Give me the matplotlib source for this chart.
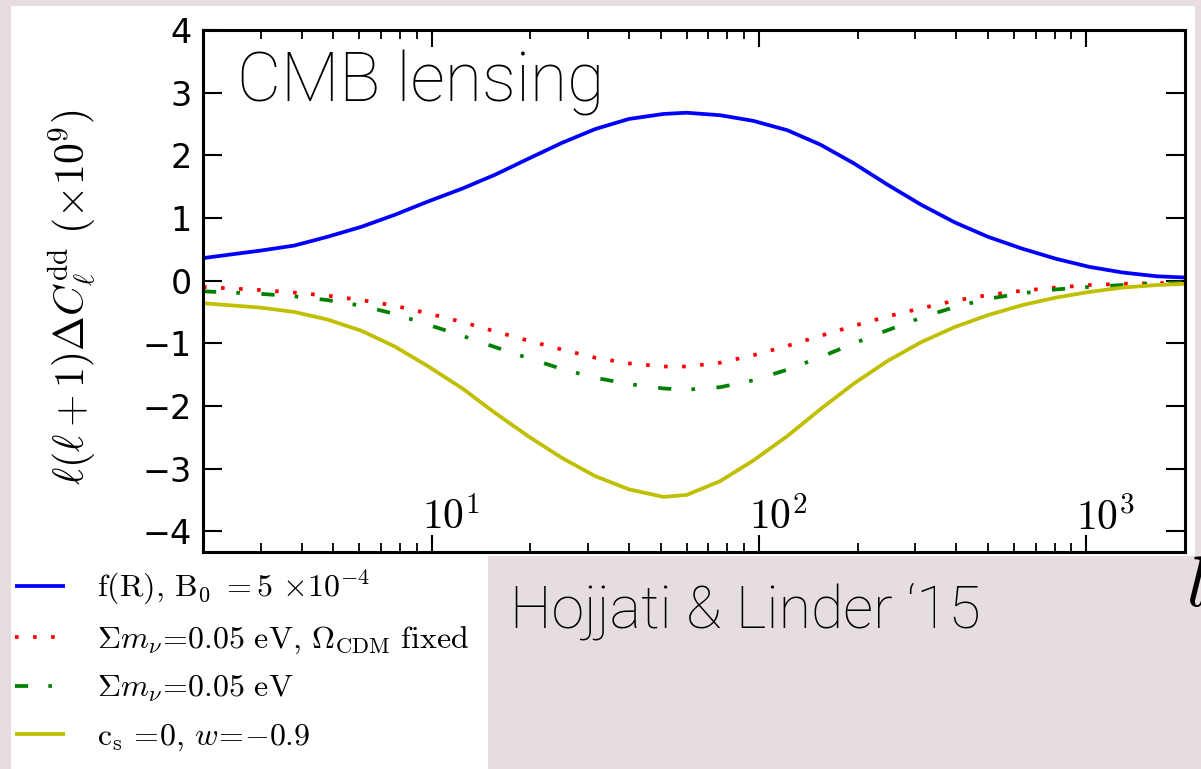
import matplotlib
matplotlib.use("Agg")
import matplotlib.pyplot as plt
import matplotlib.transforms as mtransforms
from matplotlib.patches import Rectangle

plt.rcParams['mathtext.fontset'] = 'cm'
plt.rcParams['lines.scale_dashes'] = False

# multipole grid
ell = [2.0, 3.0, 3.8, 4.8, 6.1, 7.7, 9.7, 12.4, 15.6, 19.8, 25, 31.6, 40, 51, 60,
       76, 96, 122, 154, 195, 247, 313, 396, 500, 637, 806, 1020, 1290, 1640, 2000]

# ell(ell+1) Delta C_ell^dd in units of 1e-9 for each model
fR = [0.36, 0.48, 0.56, 0.70, 0.86, 1.05, 1.26, 1.47, 1.69, 1.95, 2.20, 2.42, 2.58, 2.66, 2.68,
      2.64, 2.55, 2.40, 2.17, 1.87, 1.53, 1.21, 0.93, 0.70, 0.51, 0.35, 0.22, 0.13, 0.07, 0.05]
mnu_cdm_fixed = [-0.10, -0.15, -0.19, -0.24, -0.31, -0.40, -0.52, -0.66, -0.81, -0.96, -1.10, -1.23, -1.32, -1.37, -1.37,
                 -1.31, -1.19, -1.04, -0.88, -0.72, -0.57, -0.44, -0.32, -0.23, -0.16, -0.11, -0.07, -0.05, -0.04, -0.03]
mnu = [-0.17, -0.21, -0.25, -0.31, -0.40, -0.53, -0.70, -0.88, -1.06, -1.24, -1.41, -1.55, -1.65, -1.72, -1.74,
       -1.70, -1.59, -1.42, -1.22, -1.00, -0.79, -0.59, -0.42, -0.29, -0.20, -0.14, -0.10, -0.07, -0.04, -0.03]
cs0 = [-0.36, -0.43, -0.50, -0.62, -0.80, -1.05, -1.36, -1.72, -2.11, -2.49, -2.83, -3.12, -3.33, -3.45, -3.42,
       -3.20, -2.87, -2.48, -2.05, -1.64, -1.28, -0.98, -0.74, -0.55, -0.39, -0.27, -0.18, -0.11, -0.07, -0.05]

labels = [r'$\mathrm{f(R),\,B_0\ {=}5\ {\times}10^{-4}}$',
          r'$\Sigma m_\nu\!=\!0.05\ \mathrm{eV},\,\Omega_{\mathrm{CDM}}\ \mathrm{fixed}$',
          r'$\Sigma m_\nu\!=\!0.05\ \mathrm{eV}$',
          r'$\mathrm{c_s}\,=\!0,\,w\!=\!{-}0.9$']

y_ticks = [-4, -3, -2, -1, 0, 1, 2, 3, 4]
x_major = [10, 100, 1000]
x_major_labels = [r'$10^{1}$', r'$10^{2}$', r'$10^{3}$']

W, H = 1201, 769
fig = plt.figure(figsize=(W / 100, H / 100), dpi=100)
fig.patch.set_facecolor('#e5dde2')

# white panels behind the plot and the legend
fig.patches.append(Rectangle((11 / W, 1 - 556 / H), (1195 - 11) / W, (556 - 6) / H,
                             transform=fig.transFigure, facecolor='white', edgecolor='none', zorder=-5))
fig.patches.append(Rectangle((11 / W, 0), (488 - 11) / W, 556 / H + 0.002,
                             transform=fig.transFigure, facecolor='white', edgecolor='none', zorder=-5))

ax = fig.add_axes([203 / W, 1 - 552 / H, (1185 - 203) / W, (552 - 30) / H])
ax.set_facecolor('white')

lw = 2.7
l1, = ax.plot(ell, fR, color='#0000ff', lw=lw, solid_capstyle='butt', solid_joinstyle='round')
l2, = ax.plot(ell, mnu_cdm_fixed, color='#ff0000', lw=lw, dashes=(2.6, 10.4), dash_capstyle='butt')
l3, = ax.plot(ell, mnu, color='#008000', lw=lw, dashes=(9.5, 14.5, 2.6, 15.5), dash_capstyle='butt')
l4, = ax.plot(ell, cs0, color='#bfbf00', lw=lw, solid_capstyle='butt', solid_joinstyle='round')

ax.set_xscale('log')
ax.set_xlim(2, 2000)
ax.set_ylim(-4.33, 4)
ax.set_yticks(y_ticks)
ax.set_xticks(x_major)
ax.set_xticklabels([])

for s in ax.spines.values():
    s.set_linewidth(2.2)
ax.tick_params(axis='both', which='both', direction='in', top=True, right=True, color='black')
ax.tick_params(axis='y', which='major', length=14, width=1.5, labelsize=24, pad=8)
ax.tick_params(axis='x', which='major', length=12, width=1.5)
ax.tick_params(axis='x', which='minor', length=6.5, width=1.3)

# decade labels sit inside the frame, just above the bottom spine
off = mtransforms.ScaledTranslation(-10 / 100, 0, fig.dpi_scale_trans)
trans = mtransforms.blended_transform_factory(ax.transData, ax.transAxes) + off
for xv, txt in zip(x_major, x_major_labels):
    ax.text(xv, 22 / 522, txt, transform=trans, ha='left', va='baseline', fontsize=30)

ax.set_ylabel(r'$\ell(\ell+1)\Delta C_\ell^{\rm dd}\ (\times\mathsf{10}^{\mathsf{9}})$', fontsize=30)
ax.yaxis.set_label_coords(98 / W, 1 - 297 / H, transform=fig.transFigure)

fig.legend([l1, l2, l3, l4], labels, loc='upper left', bbox_to_anchor=(15 / W, 1 - 568 / H),
           frameon=False, fontsize=23, handlelength=1.56, handletextpad=1.0,
           labelspacing=0.52, borderpad=0, borderaxespad=0)

fig.text(237 / W, 1 - 102 / H, 'CMB lensing', fontsize=49, family='Roboto', weight='light',
         va='baseline')
fig.text(510 / W, 1 - 627 / H, 'Hojjati & Linder \u201815', fontsize=42.5, family='Roboto',
         weight='light', va='baseline')
fig.text(1186 / W, 1 - 606 / H, r'$l$', fontsize=52, va='baseline')

fig.savefig('out.png', dpi=100, facecolor=fig.get_facecolor())
